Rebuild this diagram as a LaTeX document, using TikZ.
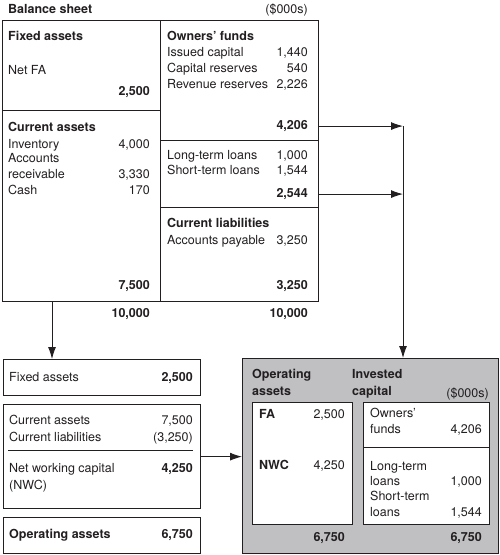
\documentclass[tikz,border=0pt]{standalone}
\usepackage{fontspec}
\setmainfont{TeX Gyre Heros}
\usetikzlibrary{arrows.meta}
\definecolor{panelgray}{RGB}{192,192,195}
\definecolor{ink}{RGB}{35,31,32}
\newcommand{\bsfont}{\fontsize{12.5}{15}\selectfont}
\tikzset{
  box/.style={draw=ink, line width=1.3pt, anchor=north west, inner sep=0pt},
  rule/.style={draw=ink, line width=0.7pt},
  lbl/.style={anchor=base west, inner sep=0pt, text=ink},
  num/.style={anchor=base east, inner sep=0pt, text=ink},
  hd/.style={font=\bsfont\bfseries},
  arr/.style={draw=ink, line width=0.9pt, -{Latex[length=12pt,width=8pt]}},
}
\begin{document}
\begin{tikzpicture}[x=1pt, y=-1pt, font=\bsfont]
            \useasboundingbox (0,0) rectangle (500,555);
            % balance sheet
            \node[lbl, hd] (title) at (8,13.5) {Balance sheet};
            \node[num] (unit) at (308,13.5) {(\$000s)};
            \node[box, minimum width=316pt, minimum height=281pt] (bs) at (2,20) {};
            \draw[rule] (160,20) -- (160,301);
            \draw[rule] (2,110) -- (160,110);
            \draw[rule] (160,140) -- (318,140);
            \draw[rule] (160,207) -- (318,207);
            % assets side
            \node[lbl, hd] (fahd) at (8,40.5) {Fixed assets};
            \node[lbl] (netfa) at (8,74.5) {Net FA};
            \node[num, hd] (fatot) at (150,95.5) {2,500};
            \node[lbl, hd] (cahd) at (8,131.5) {Current assets};
            \node[lbl] (inv) at (8,148.5) {Inventory};
            \node[num] (invv) at (150,148.5) {4,000};
            \node[lbl] (acc) at (8,162.5) {Accounts};
            \node[lbl] (rec) at (8,178.5) {receivable};
            \node[num] (recv) at (150,178.5) {3,330};
            \node[lbl] (cash) at (8,194.5) {Cash};
            \node[num] (cashv) at (150,194.5) {170};
            \node[num, hd] (catot) at (150,289.5) {7,500};
            \node[num, hd] (atot) at (150,317.5) {10,000};
            % funding side
            \node[lbl, hd] (ofhd) at (167,40.5) {Owners’ funds};
            \node[lbl] (iss) at (167,56.5) {Issued capital};
            \node[num] (issv) at (308,56.5) {1,440};
            \node[lbl] (cres) at (167,72.5) {Capital reserves};
            \node[num] (cresv) at (308,72.5) {540};
            \node[lbl] (rres) at (167,88.5) {Revenue reserves};
            \node[num] (rresv) at (308,88.5) {2,226};
            \node[num, hd] (oftot) at (308,129.5) {4,206};
            \node[lbl] (ltl) at (167,159.5) {Long-term loans};
            \node[num] (ltlv) at (308,159.5) {1,000};
            \node[lbl] (stl) at (167,174.5) {Short-term loans};
            \node[num] (stlv) at (308,174.5) {1,544};
            \node[num, hd] (ltot) at (308,197.5) {2,544};
            \node[lbl, hd] (clhd) at (167,227.5) {Current liabilities};
            \node[lbl] (ap) at (167,244.5) {Accounts payable};
            \node[num] (apv) at (308,244.5) {3,250};
            \node[num, hd] (cltot) at (308,289.5) {3,250};
            \node[num, hd] (ftot) at (308,317.5) {10,000};
            % operating assets boxes
            \node[box, minimum width=197pt, minimum height=36pt] (fabox) at (3,359) {};
            \node[lbl] (fa2) at (9,381.5) {Fixed assets};
            \node[num, hd] (fa2v) at (193,381.5) {2,500};
            \node[box, minimum width=197pt, minimum height=104pt] (nwcbox) at (3,404) {};
            \node[lbl] (ca2) at (9,424.5) {Current assets};
            \node[num] (ca2v) at (193,424.5) {7,500};
            \node[lbl] (cl2) at (9,441.5) {Current liabilities};
            \node[num] (cl2v) at (193,441.5) {(3,250)};
            \draw[rule] (8,450) -- (193,450);
            \node[lbl] (nwc) at (9,472.5) {Net working capital};
            \node[num, hd] (nwcv) at (193,472.5) {4,250};
            \node[lbl] (nwcab) at (9,489.5) {(NWC)};
            \node[box, minimum width=197pt, minimum height=36pt] (opbox) at (3,517) {};
            \node[lbl, hd] (op) at (9,538.5) {Operating assets};
            \node[num, hd] (opv) at (193,538.5) {6,750};
            % summary panel
            \node[box, fill=panelgray, minimum width=256pt, minimum height=195pt] (panel) at (242,358) {};
            \node[lbl, hd] (opa) at (252,378.5) {Operating};
            \node[lbl, hd] (opb) at (252,395.5) {assets};
            \node[lbl, hd] (ica) at (352,378.5) {Invested};
            \node[lbl, hd] (icb) at (352,395.5) {capital};
            \node[num] (unit2) at (489,397.5) {(\$000s)};
            \node[box, fill=white, minimum width=100pt, minimum height=122pt] (oabox) at (252,402) {};
            \node[lbl, hd] (fa3) at (259,418.5) {FA};
            \node[num] (fa3v) at (345,418.5) {2,500};
            \node[lbl, hd] (nwc3) at (259,469.5) {NWC};
            \node[num] (nwc3v) at (345,469.5) {4,250};
            \node[num, hd] (oatot) at (345,541.5) {6,750};
            \node[box, fill=white, minimum width=126pt, minimum height=122pt] (icbox) at (363,402) {};
            \draw[rule] (363,447) -- (489,447);
            \node[lbl] (of3a) at (370,417.5) {Owners’};
            \node[lbl] (of3b) at (370,433.5) {funds};
            \node[num] (of3v) at (482,433.5) {4,206};
            \node[lbl] (lt3a) at (370,470.5) {Long-term};
            \node[lbl] (lt3b) at (370,485.5) {loans};
            \node[num] (lt3v) at (482,485.5) {1,000};
            \node[lbl] (st3a) at (370,500.5) {Short-term};
            \node[lbl] (st3b) at (370,516.5) {loans};
            \node[num] (st3v) at (482,516.5) {1,544};
            \node[num, hd] (ictot) at (482,541.5) {6,750};
            % connectors
            \coordinate (drop) at (52,0);
            \coordinate (join) at (403,0);
            \draw[arr] (bs.south -| drop) -- (fabox.north -| drop);
            \draw[arr] (bs.east |- oftot) -- (oftot -| join);
            \draw[arr] (bs.east |- ltot) -- (ltot -| join);
            \draw[arr] (oftot -| join) -- (panel.north -| join);
            \draw[arr] (nwcbox.east) -- (nwcbox.east -| panel.west);
        \end{tikzpicture}
\end{document}
